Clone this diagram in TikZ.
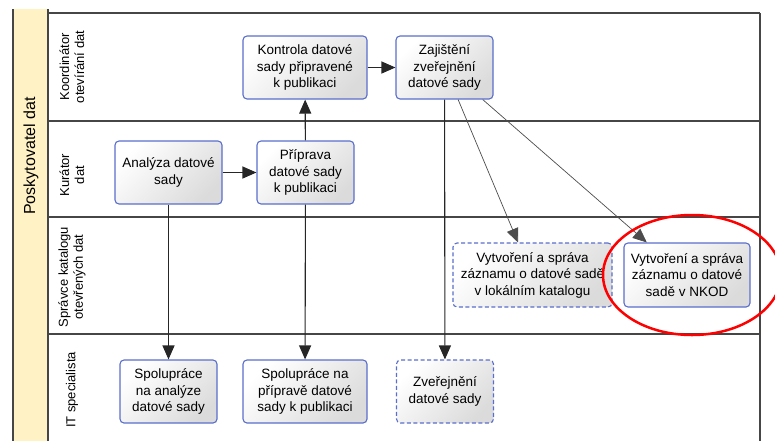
\documentclass[tikz,border=0pt]{standalone}
\usepackage{fontspec}
\setmainfont{Liberation Sans}
\usetikzlibrary{arrows.meta}
\definecolor{boxblue}{RGB}{90,110,205}
\definecolor{poolyellow}{RGB}{255,242,196}
\definecolor{lanegray}{RGB}{70,70,70}

\begin{document}
\begin{tikzpicture}[x=1pt, y=-1pt, font=\fontsize{13.5}{16.5}\selectfont,
  task/.style={draw=boxblue, line width=1.1pt, rounded corners=4pt, minimum height=63pt, minimum width=97pt, align=center, inner sep=1pt,
    top color=white, bottom color=black!14, shading angle=45},
  opttask/.style={task, dashed, dash pattern=on 4pt off 2.5pt},
  lane/.style={lanegray, line width=1.6pt},
  flow/.style={black!85, line width=1.1pt, -{Triangle[length=14pt, width=12pt]}},
  thinflow/.style={black!70, line width=.7pt, -{Triangle[length=14pt, width=12pt]}}]
\useasboundingbox (0,0) rectangle (775,440);

\fill[poolyellow] (13,9) rectangle (48,445);
\draw[lane] (13,9) -- (13,445);
\draw[lane] (48,9) -- (48,445);
\node[rotate=90, font=\fontsize{16}{18}\selectfont] (pool) at (31,156) {Poskytovatel dat};

\draw[lane] (48,13) -- (760,13);
\foreach \y in {121,217,334}
  \draw[lane] (48,\y) -- (760,\y);
\draw[lane] (760,13) -- (760,445);

\node[rotate=90, align=center, font=\fontsize{13}{15}\selectfont] (koordinator) at (72,67) {Koordinátor\\otevírání dat};
\node[rotate=90, align=center, font=\fontsize{13}{15}\selectfont] (kurator) at (72,175) {Kurátor\\dat};
\node[rotate=90, align=center, font=\fontsize{13}{15}\selectfont] (spravce) at (72,277) {Správce katalogu\\otevřených dat};
\node[rotate=90, font=\fontsize{13}{15}\selectfont] (itspec) at (72,390) {IT specialista};

\node[task, minimum width=124pt] (kontrola) at (305,67.5) {Kontrola datové\\sady připravené\\k publikaci};
\node[task] (zajisteni) at (444.5,67.5) {Zajištění\\zveřejnění\\datové sady};
\node[task, minimum width=107pt] (analyza) at (168.5,172.5) {Analýza datové\\sady};
\node[task] (priprava) at (305.5,172.5) {Příprava\\datové sady\\k publikaci};
\node[opttask, minimum width=159pt, minimum height=64pt] (lokalni) at (532.5,275) {Vytvoření a správa\\záznamu o datové sadě\\v lokálním katalogu};
\node[task, minimum width=126pt, minimum height=64pt] (nkod) at (687,275) {Vytvoření a správa\\záznamu o datové\\sadě v NKOD};
\node[task] (spolanalyza) at (168.5,391.5) {Spolupráce\\na analýze\\datové sady};
\node[task, minimum width=124pt] (spolpriprava) at (305,391.5) {Spolupráce na\\přípravě datové\\sady k publikaci};
\node[opttask] (zverejneni) at (445,391.5) {Zveřejnění\\datové sady};

\draw[flow] (analyza) -- (priprava);
\draw[flow] (priprava) -- (kontrola);
\draw[flow] (kontrola) -- (zajisteni);
\draw[flow] (analyza) -- (spolanalyza);
\draw[flow] (priprava) -- (spolpriprava);
\draw[flow] (zajisteni) -- (zverejneni);
\draw[thinflow] (zajisteni.-67) -- (lokalni.114);
\draw[thinflow] (zajisteni.-40) -- (nkod.141);

\draw[red, line width=2.5pt] (692,275) ellipse [x radius=89pt, y radius=60pt];

\end{tikzpicture}
\end{document}
